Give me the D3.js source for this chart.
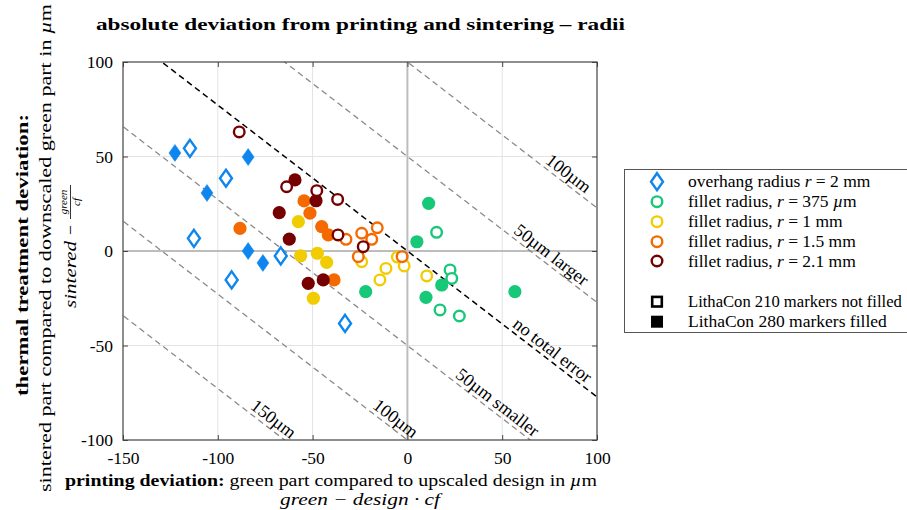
<!DOCTYPE html>
<html><head><meta charset="utf-8">
<script src="https://cdn.jsdelivr.net/npm/d3@7"></script>
<style>
body{margin:0;background:#fff}
svg{display:block}
text{font-family:"Liberation Serif","DejaVu Serif",serif;fill:#000}
</style>
</head><body><svg id="c" width="907" height="510"></svg>
<script>
// ---------- data ----------
const xTicks = [-150, -100, -50, 0, 50, 100];
const yTicks = [-100, -50, 0, 50, 100];
const guideOffsets = [100, 50, 0, -50, -100, -150];
const guideLabels = ["100µm", "50µm larger", "no total error", "50µm smaller", "100µm", "150µm"];
const guideLabelX = [81.8, 72.8, 73.4, 44.4, -9.4, -73.8];
const invCf = 0.772;

const seriesKeys = ["overhang", "r375", "r1", "r15", "r21"];
const seriesColors = ["#0f86ee", "#16c878", "#f0cc00", "#f46a00", "#760000"];

const overhangFilled = [[-122.6,51.9],[-84,49.7],[-105.7,30.7],[-84,0],[-76.2,-6.3]];
const overhangOpen = [[-114.7,54.3],[-95.7,38.5],[-112.6,6.7],[-92.7,-15.3],[-66.8,-2.6],[-32.9,-38.3]];
const r375Filled = [[11.2,25.2],[5,4.9],[18.1,-18],[9.8,-24.5],[56.7,-21.5],[-22,-21.5]];
const r375Open = [[15.4,9.9],[22.5,-10],[23.4,-14.5],[17.2,-31.2],[27.4,-34.4]];
const r1Filled = [[-57.5,15.5],[-56.3,-2.5],[-47.5,-1.2],[-42.6,-6],[-49.6,-25]];
const r1Open = [[-24.1,-5.7],[-11.3,-9.2],[-14.5,-15.3],[-5.3,-3.2],[-1.7,-7.9],[10.2,-13.2]];
const r15Filled = [[-88.3,12],[-54.5,26.5],[-51.4,20],[-45.2,12.9],[-41.7,8.5],[-38.7,-15.3]];
const r15Open = [[-32.4,6.2],[-24.1,9.4],[-15.9,12.3],[-18.8,6.2],[-25.9,-3],[-2.8,-3]];
const r21Filled = [[-59.3,37.6],[-67.6,20.3],[-62.3,6.3],[-48.2,26.6],[-52.3,-17.1],[-44.4,-15.3]];
const r21Open = [[-88.7,63],[-63.7,34],[-47.8,31.9],[-36.8,27.3],[-36.6,8.5],[-23.3,2.3]];

const legendTexts = [
  [["overhang radius ",""],["r","i"],[" = 2 mm",""]],
  [["fillet radius, ",""],["r","i"],[" = 375 ",""],["µ","i"],["m",""]],
  [["fillet radius, ",""],["r","i"],[" = 1 mm",""]],
  [["fillet radius, ",""],["r","i"],[" = 1.5 mm",""]],
  [["fillet radius, ",""],["r","i"],[" = 2.1 mm",""]]
];
const legendMaterials = ["LithaCon 210 markers not filled", "LithaCon 280 markers filled"];

// ---------- setup ----------
const svg = d3.select("#c");
svg.append("rect").attr("width",907).attr("height",510).attr("fill","#fff");
const L=123, R=597, T=62, B=440;
const x = d3.scaleLinear().domain([-150,100]).range([L,R]);
const y = d3.scaleLinear().domain([-100,100]).range([B,T]);

svg.append("clipPath").attr("id","plotclip").append("rect")
  .attr("x",L).attr("y",T).attr("width",R-L).attr("height",B-T);

// grid
const grid = svg.append("g");
grid.selectAll(".gx").data(xTicks.filter(d=>d!==-150&&d!==100&&d!==0)).join("line")
  .attr("x1",d=>x(d)).attr("x2",d=>x(d)).attr("y1",T).attr("y2",B)
  .attr("stroke","#e3e3e3").attr("stroke-width",1);
grid.selectAll(".gy").data(yTicks.filter(d=>d!==-100&&d!==100&&d!==0)).join("line")
  .attr("y1",d=>y(d)).attr("y2",d=>y(d)).attr("x1",L).attr("x2",R)
  .attr("stroke","#e3e3e3").attr("stroke-width",1);
grid.append("line").attr("x1",x(0)).attr("x2",x(0)).attr("y1",T).attr("y2",B)
  .attr("stroke","#bdbdbd").attr("stroke-width",2);
grid.append("line").attr("y1",y(0)).attr("y2",y(0)).attr("x1",L).attr("x2",R)
  .attr("stroke","#bdbdbd").attr("stroke-width",2);

// guide lines
const guides = svg.append("g").attr("clip-path","url(#plotclip)");
guideOffsets.forEach(c=>{
  guides.append("line")
    .attr("x1",x(-250)).attr("y1",y(c+250*invCf))
    .attr("x2",x(200)).attr("y2",y(c-200*invCf))
    .attr("stroke", c===0 ? "#000" : "#8a8a8a")
    .attr("stroke-width", c===0 ? 1.5 : 1.3)
    .attr("stroke-dasharray", "6,4");
});
const ang = Math.atan2(y(-invCf*10)-y(0), x(10)-x(0))*180/Math.PI;
guideOffsets.forEach((c,i)=>{
  const gx = guideLabelX[i], gy = c - gx*invCf;
  svg.append("text")
    .attr("transform",`translate(${x(gx)},${y(gy)}) rotate(${ang})`)
    .attr("text-anchor","middle").attr("dy",-4)
    .attr("font-size",18).text(guideLabels[i]);
});

// axes
const axB = d3.axisBottom(x).tickValues(xTicks).tickSize(-5).tickPadding(12).tickFormat(d=>String(d));
const axL = d3.axisLeft(y).tickValues(yTicks).tickSize(-5).tickPadding(10).tickFormat(d=>String(d));
const axT = d3.axisTop(x).tickValues(xTicks).tickSize(-5).tickFormat("");
const axR = d3.axisRight(y).tickValues(yTicks).tickSize(-5).tickFormat("");
function styleAx(g){
  g.select(".domain").remove();
  g.selectAll(".tick line").attr("stroke","#444");
  g.selectAll(".tick text").attr("font-size",17.5).attr("font-family",'"Liberation Serif",serif').attr("fill","#000");
}
svg.append("g").attr("transform",`translate(0,${B})`).call(axB).call(styleAx);
svg.append("g").attr("transform",`translate(${L},0)`).call(axL).call(styleAx);
svg.append("g").attr("transform",`translate(0,${T})`).call(axT).call(styleAx);
svg.append("g").attr("transform",`translate(${R},0)`).call(axR).call(styleAx);
svg.append("rect").attr("x",L).attr("y",T).attr("width",R-L).attr("height",B-T)
  .attr("fill","none").attr("stroke","#444").attr("stroke-width",1.2);

// markers
const diamondPath = "M0,-8.5L6,0L0,8.5L-6,0Z";
const pts = svg.append("g");
const seriesData = [
  [overhangFilled, overhangOpen],
  [r375Filled, r375Open],
  [r1Filled, r1Open],
  [r15Filled, r15Open],
  [r21Filled, r21Open]
];
seriesData.forEach((pair,si)=>{
  const col = seriesColors[si];
  const isDiamond = si===0;
  [0,1].forEach(open=>{
    const data = pair[open];
    if(isDiamond){
      pts.selectAll(null).data(data).join("path")
        .attr("d",diamondPath)
        .attr("transform",d=>`translate(${x(d[0])},${y(d[1])})`)
        .attr("fill", open ? "#fff" : col)
        .attr("stroke", col).attr("stroke-width", open ? 2.4 : 0.5);
    } else {
      pts.selectAll(null).data(data).join("circle")
        .attr("cx",d=>x(d[0])).attr("cy",d=>y(d[1]))
        .attr("r", open ? 5.3 : 6.6)
        .attr("fill", open ? "#fff" : col)
        .attr("stroke", open ? col : "none").attr("stroke-width", 2.4);
    }
  });
});

// title
svg.append("text").attr("x",96).attr("y",30).attr("font-size",17).attr("font-weight","bold")
  .attr("textLength",529).attr("lengthAdjust","spacingAndGlyphs")
  .text("absolute deviation from printing and sintering – radii");

// x label
const xl = svg.append("text").attr("x",65).attr("y",486).attr("font-size",17.5)
  .attr("textLength",532).attr("lengthAdjust","spacingAndGlyphs");
xl.append("tspan").attr("font-weight","bold").text("printing deviation:");
xl.append("tspan").text(" green part compared to upscaled design in ");
xl.append("tspan").attr("font-style","italic").text("µ");
xl.append("tspan").text("m");
svg.append("text").attr("x",360).attr("y",505).attr("font-size",17.5).attr("text-anchor","middle")
  .attr("font-style","italic").attr("textLength",160).attr("lengthAdjust","spacingAndGlyphs")
  .text("green − design · cf");

// y labels
svg.append("text").attr("transform","translate(28,255) rotate(-90)").attr("text-anchor","middle")
  .attr("font-size",17.5).attr("font-weight","bold").attr("textLength",282).attr("lengthAdjust","spacingAndGlyphs")
  .text("thermal treatment deviation:");
const yl2 = svg.append("text").attr("transform","translate(51,248) rotate(-90)").attr("text-anchor","middle")
  .attr("font-size",17.5).attr("textLength",488).attr("lengthAdjust","spacingAndGlyphs");
yl2.append("tspan").text("sintered part compared to downscaled green part in ");
yl2.append("tspan").attr("font-style","italic").text("µ");
yl2.append("tspan").text("m");
const yg = svg.append("g").attr("transform","translate(76,245) rotate(-90)");
yg.append("text").attr("x",-63).attr("y",0).attr("font-size",17.5).attr("font-style","italic")
  .attr("textLength",67).attr("lengthAdjust","spacingAndGlyphs").text("sintered");
yg.append("text").attr("x",15).attr("y",0).attr("font-size",17.5).attr("text-anchor","middle").text("−");
yg.append("text").attr("x",43).attr("y",-9).attr("font-size",11).attr("font-style","italic").attr("text-anchor","middle").text("green");
yg.append("line").attr("x1",26).attr("x2",60).attr("y1",-5.5).attr("y2",-5.5).attr("stroke","#000").attr("stroke-width",0.8);
yg.append("text").attr("x",43).attr("y",4).attr("font-size",11).attr("font-style","italic").attr("text-anchor","middle").text("cf");

// legend
const lg = svg.append("g");
lg.append("rect").attr("x",624.5).attr("y",169.5).attr("width",320).attr("height",163)
  .attr("fill","#fff").attr("stroke","#555").attr("stroke-width",1);
const rowY = [181.7, 201.7, 221.7, 241.7, 261];
legendTexts.forEach((parts,i)=>{
  const cy = rowY[i];
  if(i===0){
    lg.append("path").attr("d",diamondPath).attr("transform",`translate(657,${cy})`)
      .attr("fill","#fff").attr("stroke",seriesColors[0]).attr("stroke-width",2.4);
  } else {
    lg.append("circle").attr("cx",657).attr("cy",cy).attr("r",5.3)
      .attr("fill","#fff").attr("stroke",seriesColors[i]).attr("stroke-width",2.4);
  }
  const t = lg.append("text").attr("x",688).attr("y",cy+5.5).attr("font-size",17.5);
  parts.forEach(p=>{
    const s = t.append("tspan").text(p[0]);
    if(p[1]==="i") s.attr("font-style","italic");
  });
});
const matY = [301.7, 321.7];
lg.append("rect").attr("x",652.2).attr("y",matY[0]-4.8).attr("width",9.6).attr("height",9.6)
  .attr("fill","#fff").attr("stroke","#000").attr("stroke-width",2.6);
lg.append("rect").attr("x",651).attr("y",matY[1]-6).attr("width",12).attr("height",12).attr("fill","#000");
legendMaterials.forEach((s,i)=>{
  const t = lg.append("text").attr("x",688).attr("y",matY[i]+5.5).attr("font-size",17.5).text(s);
  const w = t.node().getComputedTextLength();
  if (688 + w > 902) t.attr("font-size", 17.5 * (902-688) / w);
});
</script>
</body></html>
